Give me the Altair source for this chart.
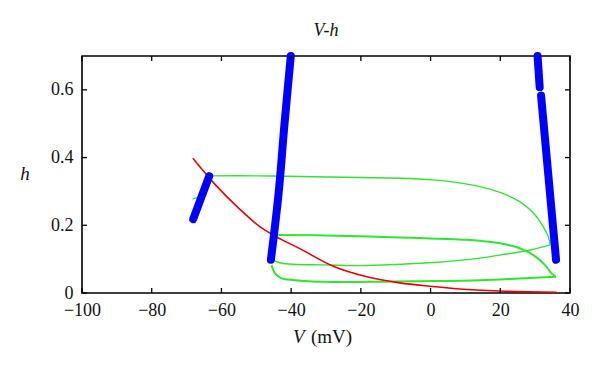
import altair as alt
import pandas as pd

# ---------------- data ----------------
# blue thick trajectory pieces (V in mV, h)
blue_left_v = [-68.1, -63.5]
blue_left_h = [0.218, 0.345]
blue_mid_v = [-45.8, -43.6, -41.9, -40.1]
blue_mid_h = [0.098, 0.294, 0.500, 0.700]
blue_right_a_v = [30.7, 31.3]
blue_right_a_h = [0.700, 0.608]
blue_right_b_v = [31.7, 36.0]
blue_right_b_h = [0.583, 0.098]

# red curve
red_v = [-68.2, -62.3, -55.0, -49.0, -44.6, -37.5, -27.9, -18.3, -8.8, -0.2, 8.4, 19.9, 36.2]
red_h = [0.398, 0.326, 0.250, 0.196, 0.168, 0.131, 0.079, 0.048, 0.030, 0.020, 0.012, 0.006, 0.002]

# green trajectories
g_top_v = [-63.5, -50.0, -37.5, -20.0, -8.8, 0.8, 5.6, 14.2, 19.9, 25.6, 29.5, 32.3, 33.8, 34.3]
g_top_h = [0.346, 0.346, 0.344, 0.341, 0.339, 0.334, 0.329, 0.314, 0.297, 0.270, 0.236, 0.196, 0.166, 0.142]
g_ret_v = [34.3, 28.5, 19.9, 14.2, 0.8, -8.8, -20.0, -30.3, -42.7, -45.2]
g_ret_h = [0.142, 0.127, 0.112, 0.103, 0.090, 0.085, 0.081, 0.083, 0.088, 0.097]
g_stub_v = [-68.3, -66.7]
g_stub_h = [0.277, 0.283]
g_mid_v = [-43.7, -30.3, -8.8, 10.4, 14.2, 19.9, 25.6, 29.5, 32.8, 34.7, 36.0]
g_mid_h = [0.171, 0.170, 0.164, 0.157, 0.154, 0.147, 0.132, 0.112, 0.083, 0.058, 0.048]
g_bot_v = [-45.6, -44.6, -42.7, -38.9, -30.3, -18.0, -5.0, 14.2, 25.6, 36.0]
g_bot_h = [0.083, 0.058, 0.043, 0.038, 0.033, 0.033, 0.035, 0.038, 0.043, 0.048]

x_ticks = [-100, -80, -60, -40, -20, 0, 20, 40]
y_ticks = [0, 0.2, 0.4, 0.6]


def frame(groups):
    rows = []
    for name, vs, hs in groups:
        for i, (v, h) in enumerate(zip(vs, hs)):
            rows.append({"seg": name, "i": i, "V": v, "h": h})
    return pd.DataFrame(rows)


blue_df = frame([("a", blue_left_v, blue_left_h), ("b", blue_mid_v, blue_mid_h),
                 ("c", blue_right_a_v, blue_right_a_h), ("d", blue_right_b_v, blue_right_b_h)])
red_df = frame([("r", red_v, red_h)])
green_thin_df = frame([("t", g_top_v, g_top_h), ("r", g_ret_v, g_ret_h), ("s", g_stub_v, g_stub_h)])
green_thick_df = frame([("m", g_mid_v, g_mid_h), ("b", g_bot_v, g_bot_h)])

W, H = 488, 237
FONT = "Liberation Serif"
FS = 18
TXT = "#111111"

xscale = alt.Scale(domain=[-100, 40], nice=False, zero=False)
yscale = alt.Scale(domain=[0, 0.7], nice=False, zero=False)
xaxis = alt.Axis(values=x_ticks, domain=False, ticks=False, tickSize=0, grid=False, title=None,
                 labelFont=FONT, labelFontSize=FS, labelPadding=8, labelColor=TXT,
                 labelFlush=False, labelOverlap=False)
yaxis = alt.Axis(values=y_ticks, domain=False, ticks=False, tickSize=0, grid=False, title=None,
                 labelFont=FONT, labelFontSize=FS, labelPadding=9, labelColor=TXT,
                 labelExpr="datum.value == 0 ? '0' : format(datum.value, '.1f')",
                 labelFlush=False, labelOverlap=False)


def X():
    return alt.X("V:Q", scale=xscale, axis=xaxis)


def Y():
    return alt.Y("h:Q", scale=yscale, axis=yaxis)


GREEN = "#2ee62e"
green_thin = alt.Chart(green_thin_df).mark_line(color=GREEN, strokeWidth=1.4,
                                                interpolate="catmull-rom").encode(
    x=X(), y=Y(), detail="seg:N", order="i:Q")
green_thick = alt.Chart(green_thick_df).mark_line(color=GREEN, strokeWidth=2.0,
                                                  interpolate="catmull-rom").encode(
    x=X(), y=Y(), detail="seg:N", order="i:Q")
red = alt.Chart(red_df).mark_line(color="#ee0000", strokeWidth=1.6,
                                  interpolate="monotone").encode(
    x=X(), y=Y(), order="i:Q")
blue = alt.Chart(blue_df).mark_line(color="#0000ff", strokeWidth=8, strokeCap="round",
                                    strokeJoin="round", interpolate="catmull-rom").encode(
    x=X(), y=Y(), detail="seg:N", order="i:Q")

xt_df = pd.DataFrame({"V": x_ticks})
yt_df = pd.DataFrame({"h": y_ticks})
tick_b = alt.Chart(xt_df).mark_rule(color="black", strokeWidth=1.3).encode(
    x=X(), y=alt.value(H), y2=alt.value(H - 5))
tick_t = alt.Chart(xt_df).mark_rule(color="black", strokeWidth=1.3).encode(
    x=X(), y=alt.value(0), y2=alt.value(5))
tick_l = alt.Chart(yt_df).mark_rule(color="black", strokeWidth=1.3).encode(
    y=Y(), x=alt.value(0), x2=alt.value(5))
tick_r = alt.Chart(yt_df).mark_rule(color="black", strokeWidth=1.3).encode(
    y=Y(), x=alt.value(W), x2=alt.value(W - 5))

one = pd.DataFrame({"a": [0]})
title_t = alt.Chart(one).mark_text(text="V-h", font=FONT, fontSize=FS, fontStyle="italic",
                                   align="center", baseline="alphabetic", color=TXT).encode(
    x=alt.value(W / 2), y=alt.value(-20))
ytitle = alt.Chart(one).mark_text(text="h", font=FONT, fontSize=FS + 1, fontStyle="italic",
                                  align="center", baseline="alphabetic", color=TXT).encode(
    x=alt.value(-57), y=alt.value(124))
xtitle_v = alt.Chart(one).mark_text(text="V", font=FONT, fontSize=FS + 1, fontStyle="italic",
                                    align="left", baseline="alphabetic", color=TXT).encode(
    x=alt.value(211), y=alt.value(287))
xtitle_u = alt.Chart(one).mark_text(text="(mV)", font=FONT, fontSize=FS + 1,
                                    align="left", baseline="alphabetic", color=TXT).encode(
    x=alt.value(229), y=alt.value(287))

chart = alt.layer(
    green_thin, green_thick, red, blue, tick_b, tick_t, tick_l, tick_r,
    title_t, ytitle, xtitle_v, xtitle_u
).properties(
    width=W, height=H,
    autosize=alt.AutoSizeParams(type="none"),
    padding={"left": 74, "top": 48, "right": 22, "bottom": 70},
).configure(
    background="white",
    view=alt.ViewConfig(stroke="black", strokeWidth=1.6),
)

chart.save("out.html", embed_options={"renderer": "svg", "actions": False})
